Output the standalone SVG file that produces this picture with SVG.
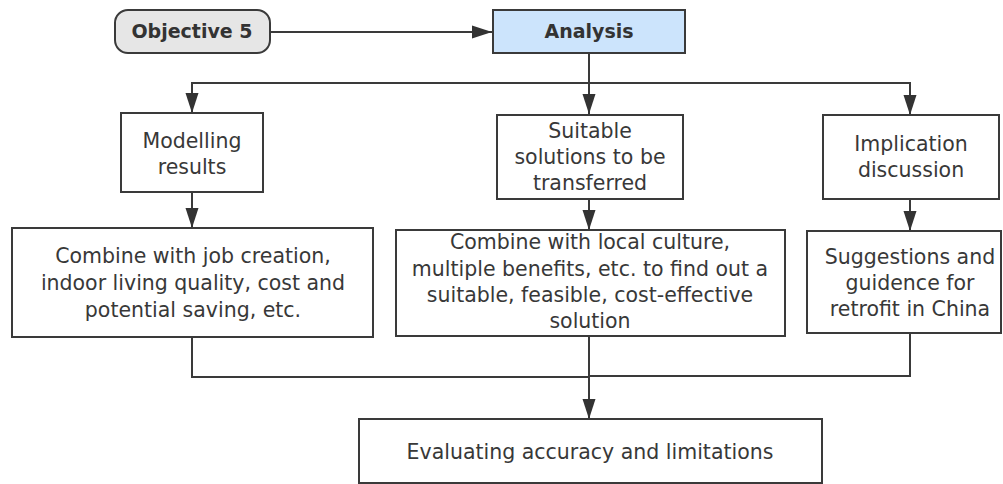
<svg xmlns="http://www.w3.org/2000/svg" width="1003" height="484" viewBox="0 0 1003 484">
<style>
.box{fill:#fff;stroke:#3a3a3a;stroke-width:2}
.t{font-family:"DejaVu Sans","Open Sans",sans-serif;font-size:20.5px;fill:#383838;text-anchor:middle}
.b{font-weight:bold;font-size:19px;fill:#333}
.c{fill:none;stroke:#3a3a3a;stroke-width:2}
</style>
<defs>
<marker id="ah" markerUnits="userSpaceOnUse" markerWidth="20" markerHeight="14" refX="20" refY="7" orient="auto">
<path d="M0,0.5 L20,7 L0,13.5 z" fill="#333"/>
</marker>
</defs>
<rect width="1003" height="484" fill="#fff"/>
<g id="connectors">
<path class="c" d="M270,32 H492" marker-end="url(#ah)"/>
<path class="c" d="M589,53 V114" marker-end="url(#ah)"/>
<path class="c" d="M192,113 V83 H910 V115" marker-end="url(#ah)"/>
<path class="c" d="M192,83 V113" marker-end="url(#ah)"/>
<path class="c" d="M192,192 V228" marker-end="url(#ah)"/>
<path class="c" d="M589,199 V230" marker-end="url(#ah)"/>
<path class="c" d="M910,199 V231" marker-end="url(#ah)"/>
<path class="c" d="M192,337 V377 H589"/>
<path class="c" d="M910,333 V376 H589"/>
<path class="c" d="M589,336 V419" marker-end="url(#ah)"/>
</g>
<g id="objective5">
<rect x="115" y="10" width="155" height="43" rx="13" fill="#e6e6e6" stroke="#3a3a3a" stroke-width="2"/>
<text class="t b" x="192" y="38">Objective 5</text>
</g>
<g id="analysis">
<rect x="493" y="10" width="192" height="43" fill="#cce4fc" stroke="#3a3a3a" stroke-width="2"/>
<text class="t b" x="589" y="38">Analysis</text>
</g>
<g id="modelling">
<rect class="box" x="121" y="113" width="142" height="79"/>
<text class="t" x="192" y="148">Modelling<tspan x="192" dy="26">results</tspan></text>
</g>
<g id="suitable">
<rect class="box" x="497" y="115" width="186" height="84"/>
<text class="t" x="590" y="138">Suitable<tspan x="590" dy="26">solutions to be</tspan><tspan x="590" dy="26">transferred</tspan></text>
</g>
<g id="implication">
<rect class="box" x="823" y="115" width="176" height="84"/>
<text class="t" x="911" y="151">Implication<tspan x="911" dy="26">discussion</tspan></text>
</g>
<g id="combine-job">
<rect class="box" x="12" y="228" width="361" height="109"/>
<text class="t" x="193" y="263">Combine with job creation,<tspan x="193" dy="27">indoor living quality, cost and</tspan><tspan x="193" dy="27">potential saving, etc.</tspan></text>
</g>
<g id="combine-local">
<rect class="box" x="396" y="230" width="389" height="106"/>
<text class="t" x="590" y="249">Combine with local culture,<tspan x="590" dy="27">multiple benefits, etc. to find out a</tspan><tspan x="590" dy="26">suitable, feasible, cost-effective</tspan><tspan x="590" dy="26">solution</tspan></text>
</g>
<g id="suggestions">
<rect class="box" x="807" y="231" width="194" height="102"/>
<text class="t" x="910" y="264">Suggestions and<tspan x="910" dy="26">guidence for</tspan><tspan x="910" dy="26">retrofit in China</tspan></text>
</g>
<g id="evaluating">
<rect class="box" x="359" y="419" width="463" height="64"/>
<text class="t" x="590" y="459">Evaluating accuracy and limitations</text>
</g>
</svg>
